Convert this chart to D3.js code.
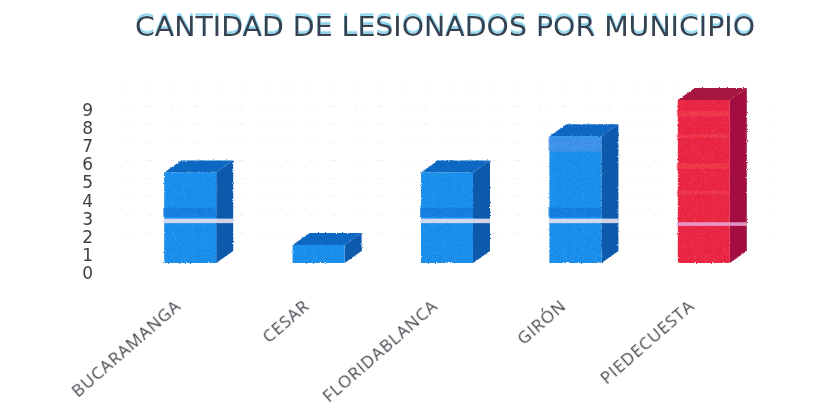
<!DOCTYPE html>
<html><head><meta charset="utf-8">
<script src="https://cdn.jsdelivr.net/npm/d3@7"></script>
<style>html,body{margin:0;padding:0;background:#fff}svg{display:block}</style>
</head><body><svg id="c" width="839" height="412"></svg>
<script>
const title = "CANTIDAD DE LESIONADOS POR MUNICIPIO";
const categories = ["BUCARAMANGA","CESAR","FLORIDABLANCA","GIRÓN","PIEDECUESTA"];
const values = [5,1,5,7,9];
const tickValues = [0,1,2,3,4,5,6,7,8,9];
const highlighted = ["PIEDECUESTA"];
// scanner streaks seen on the bars, in axis units
const darkStreak = [2.55,3.05];
const lightStreak = [2.2,2.45];
const redLightStreak = [2.05,2.25];
const redGlowStreaks = [[8.1,8.4],[6.9,7.1],[5.2,5.5],[3.8,4.0]];
const gironTopStreak = [6.15,6.95];

const depthX=17, depthY=12;
const svg=d3.select("#c");
const defs=svg.append("defs");
const rough=defs.append("filter").attr("id","rough").attr("x","-5%").attr("y","-5%").attr("width","110%").attr("height","110%");
rough.append("feTurbulence").attr("type","fractalNoise").attr("baseFrequency",0.8).attr("numOctaves",2).attr("seed",4).attr("result","n");
rough.append("feDisplacementMap").attr("in","SourceGraphic").attr("in2","n").attr("scale",2.6).attr("xChannelSelector","R").attr("yChannelSelector","G").attr("result","d");
rough.append("feGaussianBlur").attr("in","d").attr("stdDeviation",0.35);
const soft=defs.append("filter").attr("id","soft");
soft.append("feGaussianBlur").attr("stdDeviation",0.55);
const glow=defs.append("filter").attr("id","glow").attr("x","-2%").attr("y","-30%").attr("width","104%").attr("height","160%");
glow.append("feDropShadow").attr("dx",0).attr("dy",-2.5).attr("stdDeviation",0.6).attr("flood-color","#6fcbe6").attr("flood-opacity",.85).attr("result","s");
glow.append("feGaussianBlur").attr("in","s").attr("stdDeviation",0.5);

const x=d3.scaleBand().domain(categories).range([126,768]).paddingInner(0.595).paddingOuter(0.2975);
const y=d3.scaleLinear().domain([0,9]).range([263,100]);

// faint grid specks
svg.append("g").selectAll("line").data(tickValues.slice(1)).join("line")
 .attr("x1",125).attr("x2",770).attr("y1",d=>y(d)-12).attr("y2",d=>y(d)-12)
 .attr("stroke","#eeeeee").attr("stroke-width",0.8).attr("stroke-dasharray","3 7 1 11 5 19");

// title
svg.append("text").attr("x",445).attr("y",35.5).attr("text-anchor","middle").attr("font-family","DejaVu Sans")
 .attr("font-size",26).attr("filter","url(#glow)").attr("textLength",620).attr("lengthAdjust","spacingAndGlyphs")
 .attr("fill","#38414f").text(title);

// y axis
const yAxis=d3.axisLeft(y).tickValues(tickValues).tickSize(0).tickPadding(0).tickFormat(d3.format("d"));
const ga=svg.append("g").attr("transform","translate(93,10)").call(yAxis);
ga.select(".domain").remove();
ga.selectAll("text").attr("font-family","DejaVu Sans").attr("font-size",17).attr("fill","#3f3f3f").attr("filter","url(#soft)");

// x labels
const xAxis=d3.axisBottom(x).tickSize(0);
const gx=svg.append("g").call(xAxis);
gx.select(".domain").remove();
gx.selectAll(".tick").attr("transform",null);
gx.selectAll("text").attr("transform",d=>`translate(${x(d)+x.bandwidth()/2-12},303) rotate(-41)`)
 .attr("x",0).attr("y",0).attr("dy",".35em").attr("text-anchor","end")
 .attr("font-family","Open Sans").attr("font-size",17).attr("letter-spacing",.9).attr("fill","#454a50").attr("filter","url(#soft)");

// bars
const bars=svg.append("g").attr("filter","url(#rough)").selectAll("g").data(categories).join("g");
const isRed=c=>highlighted.includes(c);
const val=c=>values[categories.indexOf(c)];
const bw=x.bandwidth();
bars.append("path").attr("fill",c=>isRed(c)?"#a5163f":"#0a68c4").attr("d",c=>{
  const l=x(c),t=y(val(c));
  return `M${l},${t}L${l+depthX},${t-depthY}H${l+bw+depthX}L${l+bw},${t}Z`;});
bars.append("path").attr("fill",c=>isRed(c)?"#a30f42":"#0b5aac").attr("d",c=>{
  const r=x(c)+bw,t=y(val(c)),b=y(0);
  return `M${r},${t}L${r+depthX},${t-depthY}V${b-depthY}L${r},${b}Z`;});
bars.append("rect").attr("x",c=>x(c)).attr("width",bw).attr("y",c=>y(val(c))).attr("height",c=>y(0)-y(val(c)))
 .attr("fill",c=>isRed(c)?"#e8203f":"#148ceb");

// streaks
const tall=categories.filter(c=>val(c)>=5);
const band=(cats,r,fill,ext,op)=>svg.append("g").selectAll("rect").data(cats).join("rect")
 .attr("x",c=>x(c)-1).attr("width",bw+(ext?depthX+1:1)).attr("y",y(r[1])).attr("height",y(r[0])-y(r[1]))
 .attr("fill",fill).attr("opacity",op).attr("filter","url(#soft)");
const blues=tall.filter(c=>!isRed(c)), reds=tall.filter(isRed);
band(blues,darkStreak,"#0c74d8",false,.7);
band(blues,lightStreak,"#e4e2f0",true,.9);
band(reds,redLightStreak,"#e9a0d0",true,.9);
redGlowStreaks.forEach(r=>band(reds,r,"#f23c4c",false,.6));
band(["GIRÓN"],gironTopStreak,"#4f92e6",false,.65);

// speckle over bars
const spk=defs.append("filter").attr("id","spk").attr("x",0).attr("y",0).attr("width","100%").attr("height","100%");
spk.append("feTurbulence").attr("type","fractalNoise").attr("baseFrequency",1.1).attr("numOctaves",1).attr("seed",9);
spk.append("feColorMatrix").attr("values","0 0 0 0 1  0 0 0 0 1  0 0 0 0 1  2.2 0 0 0 -1.05");
spk.append("feComposite").attr("in2","SourceGraphic").attr("operator","in");
svg.append("g").attr("opacity",.22).selectAll("rect").data(categories).join("rect")
 .attr("filter","url(#spk)").attr("x",c=>x(c)).attr("width",bw).attr("y",c=>y(val(c))).attr("height",c=>y(0)-y(val(c))).attr("fill","#fff");
</script></body></html>
